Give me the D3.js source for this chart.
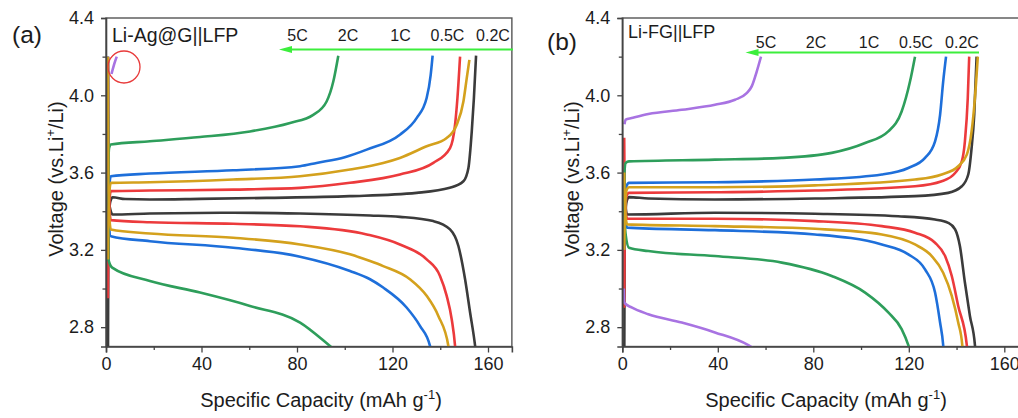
<!DOCTYPE html>
<html>
<head>
<meta charset="utf-8">
<script src="https://cdn.jsdelivr.net/npm/d3@7"></script>
<style>
  body { margin: 0; background: #fff; }
  svg { display: block; font-family: "Liberation Sans", Arial, sans-serif; }
</style>
</head>
<body>
<div id="chart"></div>
<script>
// capacity (mAh/g), voltage (V) pairs
// panel (a) Li-Ag@G||LFP
const aBlackCharge = [[0.8,2.5],[1,3.3],[1.8,3.45],[2.8,3.472],[8,3.463],[18.4,3.461],[39.4,3.464],[67.3,3.469],[102,3.478],[130.1,3.495],[144,3.521],[149.7,3.555],[151.8,3.624],[153.2,3.813],[154.1,3.986],[155,4.205]]
const aRedCharge = [[0.8,2.95],[1,3.35],[2,3.504],[18.4,3.507],[53.3,3.512],[81.3,3.521],[102.2,3.547],[123.1,3.59],[137.1,3.65],[144.1,3.727],[146.2,3.848],[147.2,3.986],[148.3,4.2]]
const aGoldCharge = [[0.8,3.15],[1,3.4],[2,3.547],[18.4,3.55],[53.3,3.564],[81.3,3.581],[102.2,3.616],[116.1,3.65],[123.1,3.676],[134.3,3.736],[142.7,3.779],[146.9,3.848],[149.7,3.968],[151.1,4.089],[152.2,4.183]]
const aBlueCharge = [[0.8,3.2],[1,3.45],[2,3.581],[18.4,3.595],[53.3,3.612],[81.3,3.633],[88.2,3.65],[100,3.68],[109.2,3.719],[123.1,3.796],[130.1,3.882],[134.3,3.986],[136,4.106],[136.8,4.205]]
const aGreenCharge = [[0.8,3.3],[0.9,3.6],[1.3,3.727],[2,3.745],[18.4,3.762],[39.4,3.784],[60.3,3.813],[77.1,3.857],[86.8,3.899],[92.4,3.968],[95.2,4.071],[97.3,4.205]]
const aPurpleCharge = [[2.3,4.11],[3.4,4.16],[4.5,4.2]]

const aBlackDischarge = [[0.8,4.2],[1,3.6],[1.6,3.42],[2.8,3.383],[18.4,3.388],[53.3,3.392],[81.3,3.388],[110.6,3.378],[123.1,3.371],[137.1,3.349],[144.1,3.306],[147.6,3.22],[150.4,3.048],[152.5,2.876],[154.6,2.703],[155.5,2.6]]
const aRedDischarge = [[0.8,4.2],[1,3.55],[2,3.354],[18.4,3.343],[53.3,3.335],[81.3,3.322],[109.2,3.28],[123.1,3.228],[134.3,3.151],[139.9,3.065],[142.7,2.962],[144.8,2.841],[146.2,2.703],[146.8,2.6]]
const aGoldDischarge = [[0.8,4.2],[1,3.5],[2,3.306],[18.4,3.285],[53.3,3.263],[81.3,3.228],[102.2,3.177],[110.6,3.142],[116.1,3.116],[127.3,3.048],[134.3,2.962],[139.2,2.858],[143.4,2.703],[144.3,2.6]]
const aBlueDischarge = [[0.8,4.2],[1,3.45],[2,3.271],[18.4,3.245],[53.3,3.211],[81.3,3.165],[102.2,3.091],[110.6,3.048],[116.1,3.005],[125.9,2.902],[131.5,2.807],[135.7,2.703],[136.8,2.6]]
const aGreenDischarge = [[0.8,3.9],[1,3.151],[2.6,3.108],[18.4,3.039],[39.4,2.979],[60.3,2.91],[81.3,2.824],[93.8,2.703],[97,2.67]]

// panel (b) Li-FG||LFP
const bBlackCharge = [[0.8,2.5],[1,3.3],[1.8,3.45],[2.8,3.473],[10.9,3.466],[38.8,3.461],[80.7,3.466],[122.6,3.478],[136.5,3.495],[142.2,3.529],[144.9,3.59],[146.3,3.727],[147.4,3.899],[148.4,4.2]]
const bRedCharge = [[0.8,2.9],[1,3.3],[1.8,3.48],[2.8,3.495],[38.8,3.498],[80.7,3.507],[122.6,3.529],[133.8,3.555],[139.4,3.598],[142.2,3.658],[143.5,3.762],[144.7,3.986],[145.3,4.2]]
const bGoldCharge = [[0.8,3.2],[1,3.35],[1.8,3.51],[2.8,3.524],[38.8,3.524],[80.7,3.534],[122.6,3.564],[133.8,3.59],[140.7,3.633],[144.3,3.693],[146.3,3.813],[147.7,3.986],[148.9,4.2]]
const bBlueCharge = [[0.8,3.2],[1,3.4],[1.8,3.53],[2.8,3.547],[38.8,3.55],[80.7,3.564],[108.7,3.59],[119.8,3.624],[126.8,3.676],[131,3.762],[133.1,3.899],[134.4,4.071],[135.6,4.2]]
const bGreenCharge = [[0.8,3.25],[0.9,3.6],[1.4,3.65],[2.8,3.658],[38.8,3.667],[66.8,3.676],[87.7,3.702],[101.7,3.753],[111.4,3.813],[117,3.916],[120.5,4.071],[122.6,4.2]]
const bPurpleCharge = [[0.9,3.85],[1.4,3.874],[3.9,3.882],[10.9,3.903],[24.9,3.925],[38.8,3.951],[47.2,3.977],[52.1,4.011],[54.2,4.046],[56.3,4.123],[58.1,4.2]]

const bBlackDischarge = [[0.8,3.6],[1,3.5],[2,3.383],[38.8,3.392],[80.7,3.387],[115.6,3.374],[131,3.357],[136.5,3.34],[139.4,3.306],[141.4,3.22],[143.5,3.031],[145.6,2.858],[147.7,2.707],[148.3,2.6]]
const bRedDischarge = [[0.8,3.78],[1,3.48],[2,3.361],[38.8,3.361],[80.7,3.349],[108.7,3.323],[122.6,3.289],[131,3.237],[135.2,3.168],[138,3.065],[140.7,2.91],[144.3,2.707],[144.8,2.6]]
const bGoldDischarge = [[0.8,3.6],[1,3.45],[2,3.332],[38.8,3.323],[80.7,3.309],[108.7,3.28],[122.6,3.228],[129.6,3.168],[134.4,3.082],[138,2.962],[140.7,2.824],[142.4,2.707],[143,2.6]]
const bBlueDischarge = [[0.8,3.6],[1,3.42],[2,3.315],[38.8,3.302],[80.7,3.28],[108.7,3.228],[119.8,3.177],[126.8,3.099],[131,2.979],[133.1,2.824],[134.4,2.707],[135,2.6]]
const bGreenDischarge = [[0.8,3.5],[1,3.35],[1.5,3.271],[2.8,3.211],[10.9,3.194],[38.8,3.168],[66.8,3.134],[87.7,3.065],[101.7,2.979],[111.4,2.876],[117,2.79],[119.8,2.707],[120.5,2.68]]
const bPurpleDischarge = [[0.6,3.0],[0.8,2.927],[3.9,2.902],[10.9,2.867],[24.9,2.824],[38.8,2.773],[52.8,2.707],[55,2.69]]

const rateLabels = ['5C', '2C', '1C', '0.5C', '0.2C']
const xTicks = [0, 40, 80, 120, 160]
const xMinorTicks = [20, 60, 100, 140]
const yTicks = [2.8, 3.2, 3.6, 4.0, 4.4]
const yMinorTicks = [3.0, 3.4, 3.8, 4.2]

const colors = {
	black: '#3b3b3b',
	red: '#ec3a3c',
	gold: '#d4a11d',
	blue: '#1e6fda',
	green: '#2e9e5b',
	purple: '#a873e2'
}

const width = 1018
const height = 418
const textColor = '#1c1c1c'

const svg = d3.select('#chart').append('svg')
	.attr('width', width)
	.attr('height', height)

const panels = [
	{
		id: 'a', left: 106, title: 'Li-Ag@G||LFP', titleX: 112, titleY: 42, titleSize: 19.5,
		labelX: 297.5, labelSpread: [0, 50.5, 103, 150, 195.5], labelY: 41,
		arrowY: 49.5, arrowFrom: 513, arrowTo: 279,
		xTitleX: 321, yTitleX: 63, tag: '(a)', tagX: 12, tagY: 43,
		series: [
			['black', aBlackCharge, aBlackDischarge],
			['red', aRedCharge, aRedDischarge],
			['blue', aBlueCharge, aBlueDischarge],
			['green', aGreenCharge, aGreenDischarge],
			['gold', aGoldCharge, aGoldDischarge],
			['purple', aPurpleCharge, null]
		],
		circle: [124, 67]
	},
	{
		id: 'b', left: 622.3, title: 'Li-FG||LFP', titleX: 628, titleY: 38, titleSize: 18,
		labelX: 766, labelSpread: [0, 50, 103, 150, 196], labelY: 48,
		arrowY: 52.5, arrowFrom: 979, arrowTo: 745.5,
		xTitleX: 826, yTitleX: 579, tag: '(b)', tagX: 547, tagY: 50,
		series: [
			['black', bBlackCharge, bBlackDischarge],
			['red', bRedCharge, bRedDischarge],
			['blue', bBlueCharge, bBlueDischarge],
			['green', bGreenCharge, bGreenDischarge],
			['gold', bGoldCharge, bGoldDischarge],
			['purple', bPurpleCharge, bPurpleDischarge]
		],
		circle: null
	}
]

const plotTop = 18
const plotBottom = 346.5
const pxPerUnit = 2.3875

panels.forEach(p => {
	const right = p.left + 170 * pxPerUnit

	const x = d3.scaleLinear().domain([0, 170]).range([p.left, right])
	const y = d3.scaleLinear().domain([2.7, 4.4]).range([plotBottom, plotTop])

	const g = svg.append('g')

	g.append('clipPath').attr('id', 'clip-' + p.id)
		.append('rect')
		.attr('x', p.left).attr('y', plotTop)
		.attr('width', right - p.left).attr('height', plotBottom - plotTop)

	// frame
	g.append('rect')
		.attr('x', p.left).attr('y', plotTop)
		.attr('width', right - p.left).attr('height', plotBottom - plotTop)
		.attr('fill', 'none')
		.attr('stroke', '#555')
		.attr('stroke-width', 1.4)

	const line = d3.line()
		.x(d => x(d[0]))
		.y(d => y(d[1]))
		.curve(d3.curveMonotoneX)

	const plot = g.append('g').attr('clip-path', 'url(#clip-' + p.id + ')')

	p.series.forEach(s => {
		[s[1], s[2]].filter(Boolean).forEach(data => {
			plot.append('path')
				.datum(data)
				.attr('d', line)
				.attr('fill', 'none')
				.attr('stroke', colors[s[0]])
				.attr('stroke-width', 2.6)
				.attr('stroke-linejoin', 'round')
		})
	})

	// axes
	const xAxis = g.append('g')
		.attr('transform', `translate(0,${plotBottom})`)
		.call(d3.axisBottom(x).tickValues(xTicks).tickSize(6).tickPadding(5).tickFormat(d3.format('d')))
	xAxis.append('g')
		.call(d3.axisBottom(x).tickValues(xMinorTicks).tickSize(3.5).tickFormat(''))
		.select('.domain').remove()

	const yAxis = g.append('g')
		.attr('transform', `translate(${p.left},0)`)
		.call(d3.axisLeft(y).tickValues(yTicks).tickSize(5).tickPadding(7).tickFormat(d3.format('.1f')))
	yAxis.append('g')
		.call(d3.axisLeft(y).tickValues(yMinorTicks).tickSize(3.5).tickFormat(''))
		.select('.domain').remove()

	g.selectAll('.domain').attr('stroke', '#444').attr('stroke-width', 1.6)
	g.selectAll('.tick line').attr('stroke', '#444').attr('stroke-width', 1.3)
	g.selectAll('.tick text')
		.attr('font-family', '"Liberation Sans", Arial, sans-serif')
		.attr('font-size', 18)
		.attr('fill', textColor)

	// axis titles
	const xt = g.append('text')
		.attr('x', p.xTitleX).attr('y', 407)
		.attr('text-anchor', 'middle')
		.attr('font-size', 20)
		.attr('fill', textColor)
	xt.append('tspan').text('Specific Capacity (mAh g')
	xt.append('tspan').text('-1').attr('font-size', 13).attr('dy', -8)
	xt.append('tspan').text(')').attr('dy', 8)

	const yt = g.append('text')
		.attr('transform', `translate(${p.yTitleX},${179}) rotate(-90)`)
		.attr('text-anchor', 'middle')
		.attr('font-size', 20)
		.attr('fill', textColor)
	yt.append('tspan').text('Voltage (vs.Li')
	yt.append('tspan').text('+').attr('font-size', 13).attr('dy', -8)
	yt.append('tspan').text('/Li)').attr('dy', 8)

	// panel tag and sample name
	g.append('text')
		.attr('x', p.tagX).attr('y', p.tagY)
		.attr('font-size', 24.5)
		.attr('fill', textColor)
		.text(p.tag)

	g.append('text')
		.attr('x', p.titleX).attr('y', p.titleY)
		.attr('font-size', p.titleSize)
		.attr('fill', textColor)
		.text(p.title)

	// rate labels and arrow
	g.selectAll('.rate')
		.data(rateLabels)
		.enter()
		.append('text')
		.attr('x', (d, i) => p.labelX + p.labelSpread[i])
		.attr('y', p.labelY)
		.attr('text-anchor', 'middle')
		.attr('font-size', 16)
		.attr('fill', textColor)
		.text(d => d)

	g.append('line')
		.attr('x1', p.arrowFrom).attr('x2', p.arrowTo + 10)
		.attr('y1', p.arrowY).attr('y2', p.arrowY)
		.attr('stroke', '#3cee3c')
		.attr('stroke-width', 2.2)
	g.append('path')
		.attr('d', `M${p.arrowTo},${p.arrowY} L${p.arrowTo + 13},${p.arrowY - 3.5} L${p.arrowTo + 13},${p.arrowY + 3.5} Z`)
		.attr('fill', '#3cee3c')

	if(p.circle) {
		g.append('circle')
			.attr('cx', p.circle[0]).attr('cy', p.circle[1])
			.attr('r', 16)
			.attr('fill', 'none')
			.attr('stroke', '#e83a3a')
			.attr('stroke-width', 1.3)
	}
})
</script>
</body>
</html>
